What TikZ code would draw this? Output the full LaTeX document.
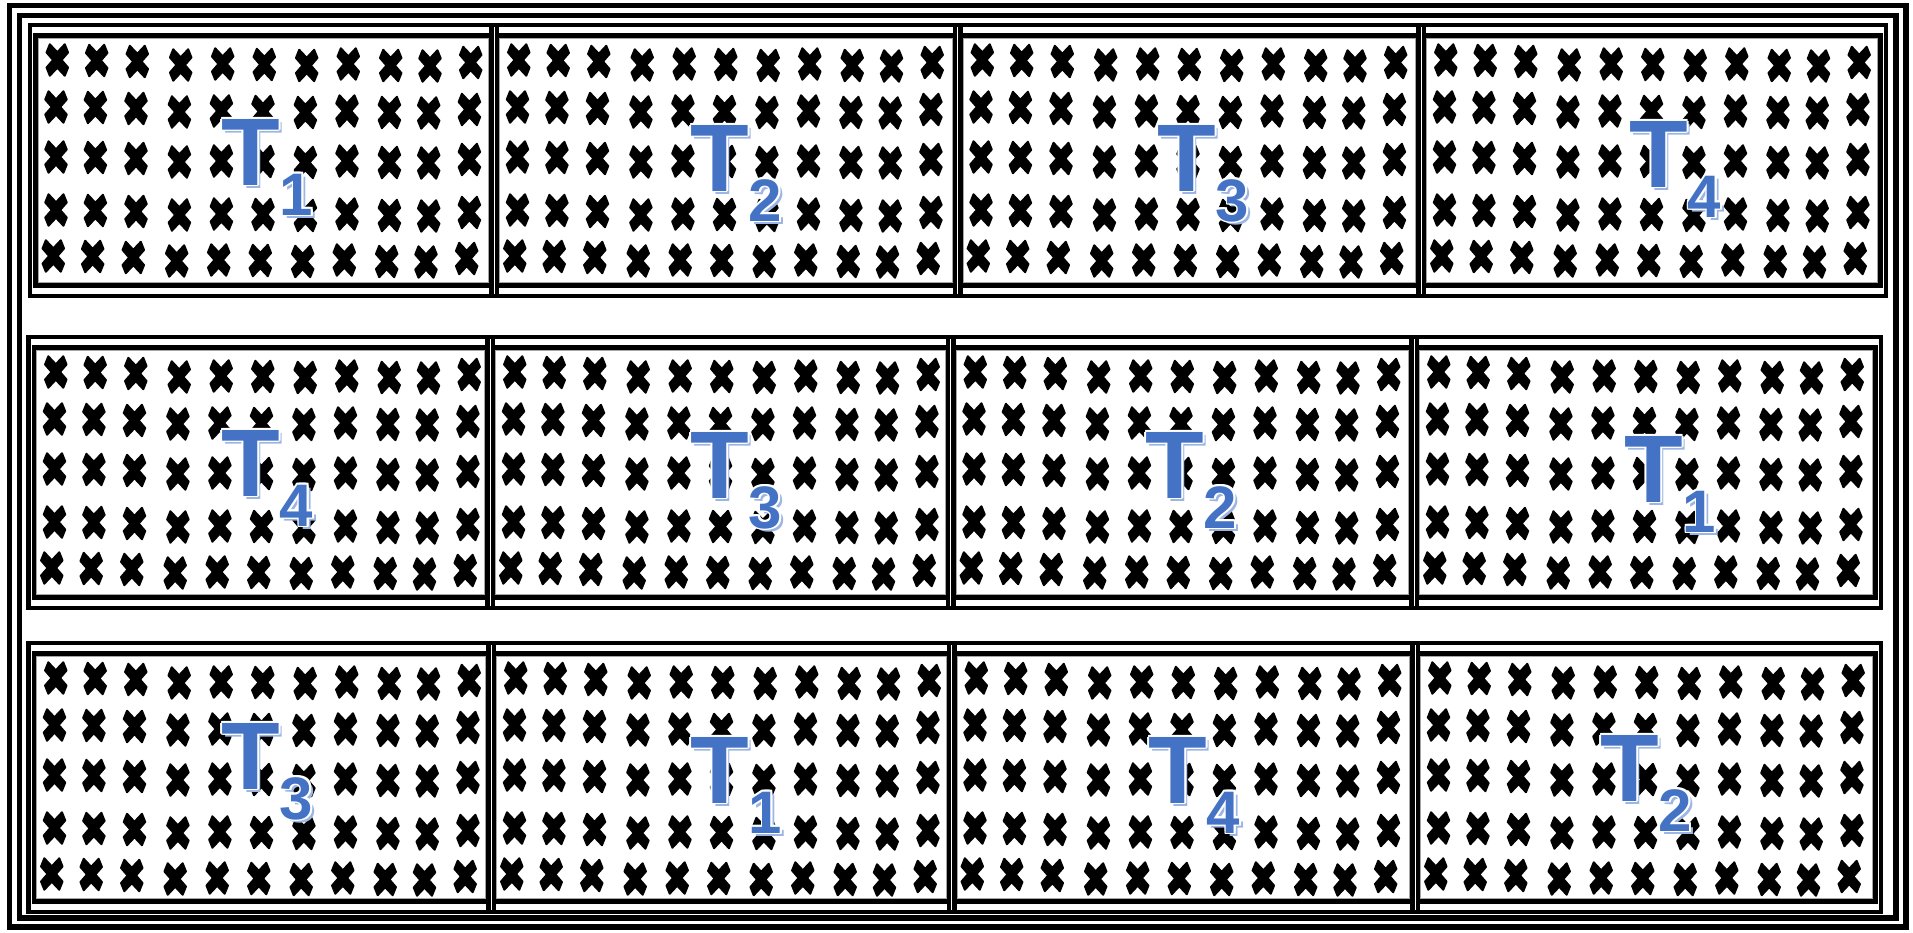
\documentclass[tikz,border=0pt]{standalone}
\usepackage{fontspec}
\setmainfont{Liberation Sans}
\definecolor{tblue}{HTML}{4472C4}
\definecolor{shblue}{HTML}{9DB5E3}
\newcommand\sbx[1]{\raisebox{-22.5pt}{\fontsize{45pt}{54pt}\selectfont #1}}
\newcommand\wcp[3]{\makebox[0pt][l]{\hspace*{#1}\raisebox{#2}{\color{white}#3}}}
\newcommand\fx[1]{%
  \makebox[0pt][l]{\hspace*{2.6pt}\raisebox{-2.6pt}{\color{shblue}#1}}%
  \wcp{1.3pt}{0pt}{#1}\wcp{-1.3pt}{0pt}{#1}\wcp{0pt}{1.3pt}{#1}\wcp{0pt}{-1.3pt}{#1}%
  \wcp{0.9pt}{0.9pt}{#1}\wcp{-0.9pt}{0.9pt}{#1}\wcp{0.9pt}{-0.9pt}{#1}\wcp{-0.9pt}{-0.9pt}{#1}%
  {\color{tblue}#1}}
\tikzset{
  frame/.style={line width=3.9pt},
  cellout/.style={line width=3.2pt},
  cellin/.style={line width=3.6pt},
  cellgray/.style={line width=0.6pt, black!35},
  lab/.style={inner sep=0pt, anchor=base west, font=\fontsize{72pt}{80pt}\selectfont\bfseries},
  cross/.pic={\filldraw[line width=1.4pt, line join=round]
     (-7.5,-15.8) -- (0,-7.8) -- (7.5,-15.8) -- (10.8,-7.5) -- (4.3,0) -- (10.8,7.5)
     -- (7.5,15.8) -- (0,7.8) -- (-7.5,15.8) -- (-10.8,7.5) -- (-4.3,0) -- (-10.8,-7.5) -- cycle;}
}
% #1 outer left, #2 outer right, #3 outer top, #4 outer bottom
\newcommand\plot[4]{%
  \draw[cellout] (#1,#3) rectangle (#2,#4);
  \draw[cellin] ({#1+5.5},{#3+10.5}) rectangle ({#2-5.5},{#4-10.5});
  \draw[cellgray] ({#1+8.2},{#3+13.2}) rectangle ({#2-8.2},{#4-13.2});
  \foreach \cx/\dy in {27.3/0,66.7/0.5,107.3/1.5,150.7/5,192.7/4,234.3/4.5,276.7/5.5,318.3/4,360.7/5.5,400/6,440.7/2.5}
    \foreach \ry/\dx in {35/0,82/-1.3,132/-1.3,185/-1.3,231/-4}
      \pic at ({#1+\cx+\dx},{#3+\ry+\dy}) {cross};
}
\begin{document}
\begin{tikzpicture}[x=0.75pt,y=-0.75pt]
\useasboundingbox[fill=white] (0,0) rectangle (1913,932);
% outer double frame
\draw[frame] (9.5,5.5) rectangle (1906,927);
\draw[frame] (19.5,15.5) rectangle (1896,918);
% row 1
\plot{30}{497}{25}{296}
\plot{491.5}{960.5}{25}{296}
\plot{955}{1424}{25}{296}
\plot{1418.5}{1886}{25}{296}
% row 2
\plot{28.5}{493}{337}{608}
\plot{487.5}{953.5}{337}{608}
\plot{948}{1417}{337}{608}
\plot{1411.5}{1881}{337}{608}
% row 3
\plot{28.5}{494}{643}{912}
\plot{488.5}{954.5}{643}{912}
\plot{949}{1418}{643}{912}
\plot{1412.5}{1881}{643}{912}
% labels
\node[lab] (r1c1) at (221,185) {\fx{T\sbx{1}}};
\node[lab] (r1c2) at (690,191) {\fx{T\sbx{2}}};
\node[lab] (r1c3) at (1157,191) {\fx{T\sbx{3}}};
\node[lab] (r1c4) at (1629,187) {\fx{T\sbx{4}}};
\node[lab] (r2c1) at (221,496) {\fx{T\sbx{4}}};
\node[lab] (r2c2) at (690,498) {\fx{T\sbx{3}}};
\node[lab] (r2c3) at (1145,498) {\fx{T\sbx{2}}};
\node[lab] (r2c4) at (1624,502) {\fx{T\sbx{1}}};
\node[lab] (r3c1) at (221,789) {\fx{T\sbx{3}}};
\node[lab] (r3c2) at (690,803) {\fx{T\sbx{1}}};
\node[lab] (r3c3) at (1148,803) {\fx{T\sbx{4}}};
\node[lab] (r3c4) at (1600,801) {\fx{T\sbx{2}}};
\end{tikzpicture}
\end{document}
